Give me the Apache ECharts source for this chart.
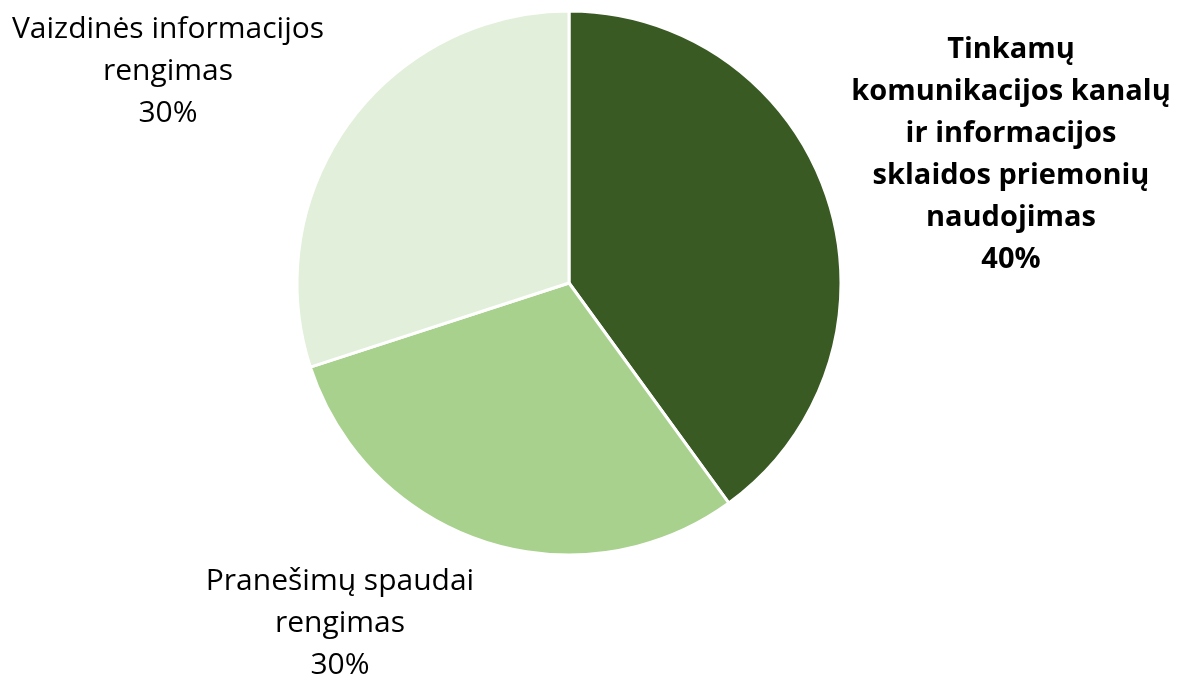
<!DOCTYPE html>
<html>
<head>
<meta charset="utf-8">
<script src="https://cdn.jsdelivr.net/npm/echarts@6/dist/echarts.min.js"></script>
<style>
  html, body { margin: 0; padding: 0; background: #fff; }
  #container { width: 1179px; height: 680px; }
</style>
</head>
<body>
<div id="container"></div>
<script>
var categories = [
    'Tinkamų\nkomunikacijos kanalų\nir informacijos\nsklaidos priemonių\nnaudojimas',
    'Pranešimų spaudai\nrengimas',
    'Vaizdinės informacijos\nrengimas'
];
var values  = [40, 30, 30];
var colors  = ['#3A5A24', '#A9D18E', '#E2EFDA'];
// label anchor points (centre of text block)
var labelPos = [[1011, 155], [340, 623], [168, 71]];

var dom     = document.getElementById("container");
var myChart = echarts.init(dom);

var pieData = [];
for (var i = 0; i < categories.length; i++) {
    pieData.push({
        name: categories[i],
        value: values[i],
        itemStyle: { color: colors[i] },
        label: {
            fontWeight: i === 0 ? 'bold' : 'normal',
            fontSize: i === 0 ? 29 : 30
        }
    });
}

var option = {
    backgroundColor: '#fff',
    animation: false,
    series: [
        {
            type: 'pie',
            center: [569, 283],
            radius: [0, 272],
            startAngle: 90,
            clockwise: true,
            data: pieData,
            itemStyle: {
                borderColor: '#fff',
                borderWidth: 3
            },
            label: {
                show: true,
                position: 'inside',
                formatter: function (p) {
                    return p.name + '\n' + p.value + '%';
                },
                fontFamily: 'Open Sans',
                fontSize: 30,
                lineHeight: 42,
                color: '#000',
                overflow: 'none',
                align: 'center'
            },
            labelLine: { show: false },
            labelLayout: function (params) {
                var p = labelPos[params.dataIndex];
                return {
                    x: p[0],
                    y: p[1],
                    align: 'center',
                    verticalAlign: 'middle'
                };
            }
        }
    ]
};

myChart.setOption(option);
</script>
</body>
</html>
